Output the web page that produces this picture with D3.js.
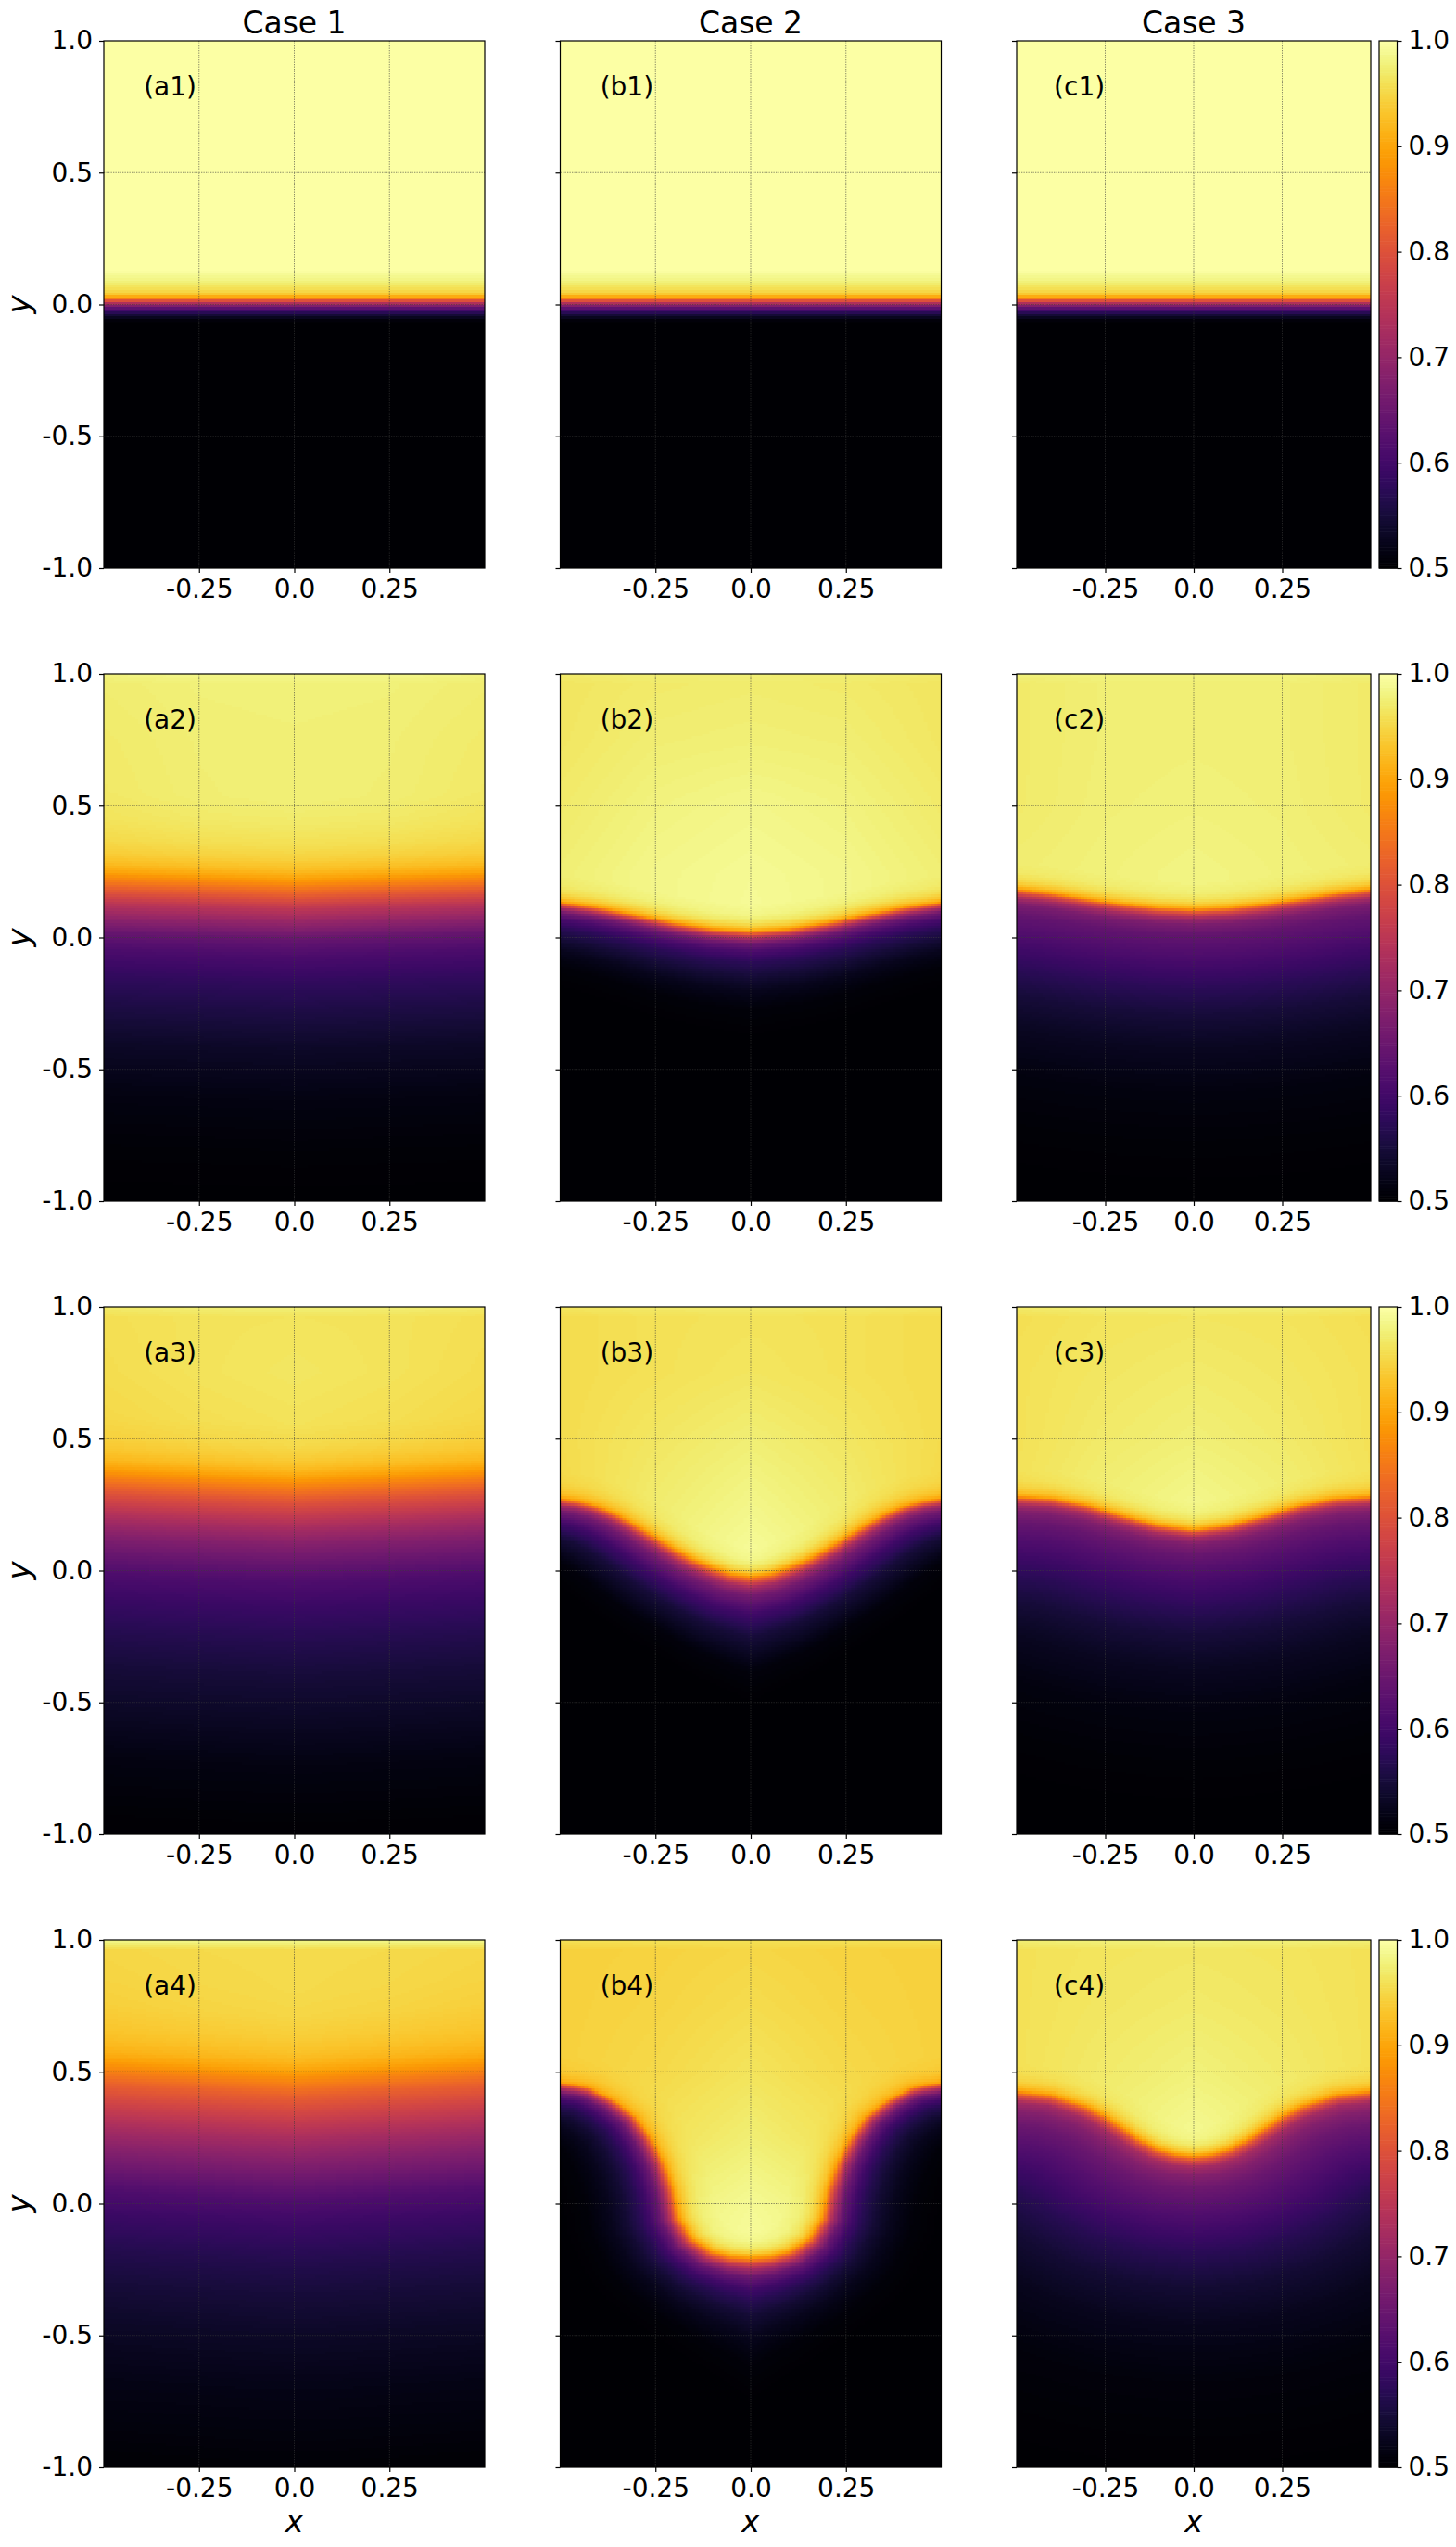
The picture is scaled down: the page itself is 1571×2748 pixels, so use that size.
<!DOCTYPE html>
<html><head><meta charset="utf-8">
<script src="https://cdn.jsdelivr.net/npm/d3@7"></script>
<style>
body{margin:0;background:#fff}
svg{display:block}
text{font-family:"DejaVu Sans",sans-serif;fill:#000}
</style>
</head><body>
<svg id="fig" width="1571" height="2748"></svg>
<script>
// ---------------- data ----------------
const caseTitles = ["Case 1", "Case 2", "Case 3"];
const panelLabels = [["(a1)","(b1)","(c1)"],["(a2)","(b2)","(c2)"],["(a3)","(b3)","(c3)"],["(a4)","(b4)","(c4)"]];
const yTicks = [-1, -0.5, 0, 0.5, 1];
const yTickLabels = ["-1.0", "-0.5", "0.0", "0.5", "1.0"];
const xTicks = [-0.25, 0, 0.25];
const xTickLabels = ["-0.25", "0.0", "0.25"];
const gridX = [-0.25, 0, 0.25];
const gridY = [-0.5, 0, 0.5];
const cbTicks = [0.5, 0.6, 0.7, 0.8, 0.9, 1.0];
const cbTickLabels = ["0.5", "0.6", "0.7", "0.8", "0.9", "1.0"];
const colorDomain = [0.5, 1.0];

// sample positions of the field above the interface (|x| and y)
const upperAbsX = [0, 0.25, 0.5];
const upperY = [1, 0.96, 0.75, 0.5, 0.25, 0, -0.25];

// Row 1 (a1, b1, c1): flat, sharp interface
const r1_ifaceX = [-0.5, 0.5];
const r1_ifaceY = [0.03, 0.03];
const r1_riseD = [0, 0.01, 0.02, 0.035, 0.06, 0.1];
const r1_riseF = [0, 0.35, 0.5, 0.62, 0.8, 1];
const r1_belowD = [0, -0.012, -0.022, -0.03, -0.042, -0.053, -0.07, -0.088, -0.11];
const r1_belowV = [0.9, 0.83, 0.76, 0.7, 0.64, 0.6, 0.55, 0.51, 0.5];
const r1_belowScale = [1, 1, 1];
const r1_upper = [[1,1,1],[1,1,1],[1,1,1],[1,1,1],[1,1,1],[1,1,1],[1,1,1]];

// a2
const a2_ifaceX = [-0.5, -0.25, 0, 0.25, 0.5];
const a2_ifaceY = [0.25, 0.238, 0.225, 0.238, 0.25];
const a2_riseD = [0, 0.03, 0.07, 0.12, 0.2, 0.3];
const a2_riseF = [0, 0.35, 0.62, 0.8, 0.93, 1];
const a2_belowD = [0, -0.04, -0.08, -0.12, -0.17, -0.23, -0.3, -0.4, -0.5, -0.65, -0.85, -1.05, -1.25];
const a2_belowV = [0.9, 0.85, 0.8, 0.75, 0.7, 0.645, 0.61, 0.58, 0.56, 0.535, 0.515, 0.505, 0.5];
const a2_belowScale = [1, 1, 1];
const a2_upper = [[0.985,0.985,0.98],[0.978,0.977,0.973],[0.976,0.975,0.97],[0.976,0.974,0.968],[0.97,0.97,0.965],[0.97,0.97,0.965],[0.97,0.97,0.965]];

// b2
const b2_ifaceX = [-0.5, -0.4, -0.3, -0.2, -0.1, 0, 0.1, 0.2, 0.3, 0.4, 0.5];
const b2_ifaceY = [0.135, 0.115, 0.088, 0.058, 0.035, 0.025, 0.035, 0.058, 0.088, 0.115, 0.135];
const b2_riseD = [0, 0.015, 0.035, 0.06, 0.1];
const b2_riseF = [0, 0.45, 0.75, 0.92, 1];
const b2_belowD = [0, -0.015, -0.03, -0.05, -0.08, -0.12, -0.17, -0.23, -0.3, -0.42];
const b2_belowV = [0.9, 0.8, 0.72, 0.655, 0.61, 0.575, 0.55, 0.525, 0.508, 0.5];
const b2_belowScale = [1, 1.1, 1.25];
const b2_upper = [[0.975,0.975,0.97],[0.972,0.97,0.965],[0.976,0.974,0.966],[0.985,0.98,0.97],[0.99,0.985,0.975],[0.992,0.985,0.975],[0.992,0.985,0.975]];

// c2
const c2_ifaceX = [-0.5, -0.4, -0.3, -0.2, -0.1, 0, 0.1, 0.2, 0.3, 0.4, 0.5];
const c2_ifaceY = [0.185, 0.17, 0.148, 0.128, 0.114, 0.108, 0.114, 0.128, 0.148, 0.17, 0.185];
const c2_riseD = [0, 0.015, 0.035, 0.06, 0.1];
const c2_riseF = [0, 0.45, 0.75, 0.92, 1];
const c2_belowD = [0, -0.015, -0.035, -0.06, -0.1, -0.16, -0.22, -0.3, -0.4, -0.52, -0.7, -0.9, -1.1];
const c2_belowV = [0.9, 0.8, 0.72, 0.67, 0.64, 0.62, 0.6, 0.575, 0.55, 0.53, 0.513, 0.505, 0.5];
const c2_belowScale = [1, 1, 1];
const c2_upper = [[0.98,0.98,0.978],[0.975,0.975,0.97],[0.976,0.975,0.97],[0.978,0.976,0.97],[0.982,0.978,0.974],[0.982,0.978,0.974],[0.982,0.978,0.974]];

// a3
const a3_ifaceX = [-0.5, -0.25, 0, 0.25, 0.5];
const a3_ifaceY = [0.392, 0.372, 0.355, 0.372, 0.392];
const a3_riseD = [0, 0.03, 0.07, 0.12, 0.2];
const a3_riseF = [0, 0.4, 0.7, 0.9, 1];
const a3_belowD = [0, -0.05, -0.1, -0.15, -0.2, -0.26, -0.33, -0.4, -0.5, -0.62, -0.75, -0.9, -1.1, -1.35];
const a3_belowV = [0.9, 0.85, 0.8, 0.76, 0.72, 0.68, 0.645, 0.615, 0.59, 0.568, 0.55, 0.535, 0.515, 0.502];
const a3_belowScale = [1, 1, 1];
const a3_upper = [[0.975,0.975,0.97],[0.963,0.962,0.958],[0.966,0.962,0.956],[0.96,0.956,0.95],[0.955,0.95,0.945],[0.955,0.95,0.945],[0.955,0.95,0.945]];

// b3
const b3_ifaceX = [-0.5, -0.45, -0.4, -0.35, -0.3, -0.25, -0.2, -0.15, -0.1, -0.05, 0, 0.05, 0.1, 0.15, 0.2, 0.25, 0.3, 0.35, 0.4, 0.45, 0.5];
const b3_ifaceY = [0.275, 0.265, 0.245, 0.215, 0.175, 0.13, 0.085, 0.045, 0.015, -0.01, -0.02, -0.01, 0.015, 0.045, 0.085, 0.13, 0.175, 0.215, 0.245, 0.265, 0.275];
const b3_riseD = [0, 0.015, 0.035, 0.06, 0.1];
const b3_riseF = [0, 0.45, 0.75, 0.92, 1];
const b3_belowD = [0, -0.02, -0.04, -0.07, -0.13, -0.21, -0.33, -0.45];
const b3_belowV = [0.9, 0.8, 0.72, 0.66, 0.6, 0.55, 0.51, 0.5];
const b3_belowScale = [0.9, 1.2, 1.4];
const b3_upper = [[0.97,0.97,0.965],[0.962,0.96,0.955],[0.965,0.96,0.955],[0.975,0.966,0.955],[0.985,0.972,0.952],[0.995,0.98,0.96],[0.995,0.98,0.96]];

// c3
const c3_ifaceX = [-0.5, -0.4, -0.3, -0.2, -0.1, 0, 0.1, 0.2, 0.3, 0.4, 0.5];
const c3_ifaceY = [0.283, 0.275, 0.25, 0.21, 0.175, 0.157, 0.175, 0.21, 0.25, 0.275, 0.283];
const c3_riseD = [0, 0.015, 0.035, 0.06, 0.1];
const c3_riseF = [0, 0.45, 0.75, 0.92, 1];
const c3_belowD = [0, -0.015, -0.035, -0.06, -0.1, -0.16, -0.22, -0.3, -0.4, -0.52, -0.7, -0.9, -1.1];
const c3_belowV = [0.9, 0.8, 0.72, 0.675, 0.645, 0.62, 0.6, 0.575, 0.55, 0.53, 0.513, 0.505, 0.5];
const c3_belowScale = [1, 1, 1];
const c3_upper = [[0.975,0.975,0.97],[0.965,0.963,0.958],[0.97,0.966,0.96],[0.976,0.97,0.96],[0.986,0.976,0.962],[0.986,0.976,0.962],[0.986,0.976,0.962]];

// a4
const a4_ifaceX = [-0.5, -0.25, 0, 0.25, 0.5];
const a4_ifaceY = [0.552, 0.528, 0.505, 0.528, 0.552];
const a4_riseD = [0, 0.03, 0.07, 0.12, 0.2, 0.3];
const a4_riseF = [0, 0.35, 0.6, 0.8, 0.95, 1];
const a4_belowD = [0, -0.05, -0.1, -0.15, -0.2, -0.27, -0.35, -0.43, -0.5, -0.6, -0.72, -0.85, -1.0, -1.2, -1.5];
const a4_belowV = [0.9, 0.86, 0.82, 0.79, 0.76, 0.72, 0.68, 0.645, 0.615, 0.59, 0.567, 0.55, 0.535, 0.52, 0.505];
const a4_belowScale = [1, 1, 1];
const a4_upper = [[0.985,0.985,0.985],[0.955,0.953,0.95],[0.953,0.95,0.945],[0.948,0.943,0.938],[0.94,0.94,0.94],[0.94,0.94,0.94],[0.94,0.94,0.94]];

// b4
const b4_ifaceX = [-0.5, -0.45, -0.42, -0.36, -0.3, -0.26, -0.225, -0.2, -0.185, -0.15, -0.1, -0.05, 0, 0.05, 0.1, 0.15, 0.185, 0.2, 0.225, 0.26, 0.3, 0.36, 0.42, 0.45, 0.5];
const b4_ifaceY = [0.46, 0.45, 0.44, 0.395, 0.33, 0.25, 0.155, 0.05, -0.055, -0.135, -0.18, -0.198, -0.203, -0.198, -0.18, -0.135, -0.055, 0.05, 0.155, 0.25, 0.33, 0.395, 0.44, 0.45, 0.46];
const b4_riseD = [0, 0.015, 0.035, 0.06, 0.1];
const b4_riseF = [0, 0.45, 0.75, 0.92, 1];
const b4_belowD = [0, -0.015, -0.03, -0.05, -0.08, -0.11, -0.15, -0.2, -0.27, -0.38];
const b4_belowV = [0.9, 0.8, 0.72, 0.65, 0.6, 0.57, 0.545, 0.525, 0.508, 0.5];
const b4_belowScale = [0.65, 1.0, 1.2];
const b4_upper = [[0.96,0.96,0.96],[0.95,0.946,0.944],[0.955,0.948,0.944],[0.963,0.952,0.944],[0.975,0.96,0.945],[0.99,0.975,0.948],[0.997,0.98,0.95]];

// c4
const c4_ifaceX = [-0.5, -0.4, -0.3, -0.25, -0.2, -0.15, -0.1, -0.05, 0, 0.05, 0.1, 0.15, 0.2, 0.25, 0.3, 0.4, 0.5];
const c4_ifaceY = [0.43, 0.415, 0.37, 0.335, 0.29, 0.245, 0.21, 0.19, 0.182, 0.19, 0.21, 0.245, 0.29, 0.335, 0.37, 0.415, 0.43];
const c4_riseD = [0, 0.015, 0.035, 0.06, 0.1];
const c4_riseF = [0, 0.45, 0.75, 0.92, 1];
const c4_belowD = [0, -0.02, -0.045, -0.08, -0.13, -0.2, -0.28, -0.38, -0.5, -0.65, -0.85, -1.1, -1.3];
const c4_belowV = [0.9, 0.8, 0.72, 0.68, 0.65, 0.625, 0.6, 0.57, 0.545, 0.525, 0.51, 0.503, 0.5];
const c4_belowScale = [1, 1, 1];
const c4_upper = [[0.978,0.978,0.975],[0.966,0.964,0.96],[0.97,0.966,0.96],[0.978,0.97,0.96],[0.99,0.976,0.963],[0.99,0.976,0.963],[0.99,0.976,0.963]];

// table assembled from the arrays above
function panelSpec(ifaceX, ifaceY, riseD, riseF, belowD, belowV, belowScale, upper) {
  return {ifaceX, ifaceY, riseD, riseF, belowD, belowV, belowScale, upper};
}
const panels = [
  [
    panelSpec(r1_ifaceX, r1_ifaceY, r1_riseD, r1_riseF, r1_belowD, r1_belowV, r1_belowScale, r1_upper),
    panelSpec(r1_ifaceX, r1_ifaceY, r1_riseD, r1_riseF, r1_belowD, r1_belowV, r1_belowScale, r1_upper),
    panelSpec(r1_ifaceX, r1_ifaceY, r1_riseD, r1_riseF, r1_belowD, r1_belowV, r1_belowScale, r1_upper)
  ],
  [
    panelSpec(a2_ifaceX, a2_ifaceY, a2_riseD, a2_riseF, a2_belowD, a2_belowV, a2_belowScale, a2_upper),
    panelSpec(b2_ifaceX, b2_ifaceY, b2_riseD, b2_riseF, b2_belowD, b2_belowV, b2_belowScale, b2_upper),
    panelSpec(c2_ifaceX, c2_ifaceY, c2_riseD, c2_riseF, c2_belowD, c2_belowV, c2_belowScale, c2_upper)
  ],
  [
    panelSpec(a3_ifaceX, a3_ifaceY, a3_riseD, a3_riseF, a3_belowD, a3_belowV, a3_belowScale, a3_upper),
    panelSpec(b3_ifaceX, b3_ifaceY, b3_riseD, b3_riseF, b3_belowD, b3_belowV, b3_belowScale, b3_upper),
    panelSpec(c3_ifaceX, c3_ifaceY, c3_riseD, c3_riseF, c3_belowD, c3_belowV, c3_belowScale, c3_upper)
  ],
  [
    panelSpec(a4_ifaceX, a4_ifaceY, a4_riseD, a4_riseF, a4_belowD, a4_belowV, a4_belowScale, a4_upper),
    panelSpec(b4_ifaceX, b4_ifaceY, b4_riseD, b4_riseF, b4_belowD, b4_belowV, b4_belowScale, b4_upper),
    panelSpec(c4_ifaceX, c4_ifaceY, c4_riseD, c4_riseF, c4_belowD, c4_belowV, c4_belowScale, c4_upper)
  ]
];

// ---------------- layout ----------------
const colLeft = [112, 604.5, 1097];
const colWidth = [411, 411, 382];
const rowTop = [44, 727, 1410, 2093];
const panelH = 569;
const cbX = 1488, cbW = 19.5;
const nCols = 110, nRows = 220;
const tickFont = 28, titleFont = 33, axisLabelFont = 34, panelLabelFont = 28;

const color = d3.scaleSequential(d3.interpolateInferno).domain(colorDomain).clamp(true);
const svg = d3.select("#fig");

function makeField(p) {
  const curve = d3.scaleLinear().domain(p.ifaceX).range(p.ifaceY);
  const rise = d3.scaleLinear().domain(p.riseD).range(p.riseF).clamp(true);
  const below = d3.scaleLinear().domain(p.belowD).range(p.belowV).clamp(true);
  const bscale = d3.scaleLinear().domain(upperAbsX).range(p.belowScale).clamp(true);
  const colScales = upperAbsX.map((_, j) => d3.scaleLinear().domain(upperY).range(p.upper.map(r => r[j])).clamp(true));
  const upperAt = (ax, y) => d3.scaleLinear().domain(upperAbsX).range(colScales.map(s => s(y))).clamp(true)(ax);
  const px = p.ifaceX, py = p.ifaceY;
  return (x, y) => {
    let dmin = Infinity;
    for (let i = 0; i < px.length - 1; i++) {
      const x0 = px[i], y0 = py[i], vx = px[i+1] - x0, vy = py[i+1] - y0;
      const L = vx*vx + vy*vy;
      let t = L > 0 ? ((x - x0)*vx + (y - y0)*vy) / L : 0;
      t = Math.max(0, Math.min(1, t));
      const dx = x - (x0 + t*vx), dy = y - (y0 + t*vy);
      const dd = dx*dx + dy*dy;
      if (dd < dmin) dmin = dd;
    }
    const dist = Math.sqrt(dmin);
    const ax = Math.abs(x);
    if (y >= curve(x)) {
      const u = upperAt(ax, y);
      return 0.9 + (u - 0.9) * rise(dist);
    }
    return below(-dist * bscale(ax));
  };
}

for (let r = 0; r < 4; r++) {
  for (let c = 0; c < 3; c++) {
    const L = colLeft[c], W = colWidth[c], T = rowTop[r], H = panelH;
    const x = d3.scaleLinear().domain([-0.5, 0.5]).range([L, L + W]);
    const y = d3.scaleLinear().domain([-1, 1]).range([T + H, T]);
    const field = makeField(panels[r][c]);

    // heat map cells drawn on a canvas through local copies of the scales
    const cw = Math.ceil(W), ch = Math.ceil(H);
    const canvas = document.createElement("canvas");
    canvas.width = cw; canvas.height = ch;
    const ctx = canvas.getContext("2d");
    const xl = d3.scaleLinear().domain([-0.5, 0.5]).range([0, cw]);
    const yl = d3.scaleLinear().domain([-1, 1]).range([ch, 0]);
    const cx = d3.scaleLinear().domain([0, nCols]).range([-0.5, 0.5]);
    const cy = d3.scaleLinear().domain([0, nRows]).range([-1, 1]);
    for (let i = 0; i < nCols; i++) {
      const xa = cx(i), xb = cx(i + 1), xm = (xa + xb) / 2;
      const p0 = Math.round(xl(xa)), p1 = Math.round(xl(xb));
      for (let j = 0; j < nRows; j++) {
        const ya = cy(j), yb = cy(j + 1), ym = (ya + yb) / 2;
        const q0 = Math.round(yl(yb)), q1 = Math.round(yl(ya));
        ctx.fillStyle = color(field(xm, ym));
        ctx.fillRect(p0, q0, p1 - p0, q1 - q0);
      }
    }
    svg.append("image")
      .attr("href", canvas.toDataURL())
      .attr("x", L).attr("y", T).attr("width", W).attr("height", H)
      .attr("preserveAspectRatio", "none");

    // grid
    const g = svg.append("g");
    g.selectAll("line.gx").data(gridX).join("line")
      .attr("x1", d => x(d)).attr("x2", d => x(d)).attr("y1", T).attr("y2", T + H)
      .attr("stroke", "#3a3a3a").attr("stroke-opacity", 0.6).attr("stroke-width", 1).attr("stroke-dasharray", "1.3,1.2");
    g.selectAll("line.gy").data(gridY).join("line")
      .attr("x1", L).attr("x2", L + W).attr("y1", d => y(d)).attr("y2", d => y(d))
      .attr("stroke", "#3a3a3a").attr("stroke-opacity", 0.6).attr("stroke-width", 1).attr("stroke-dasharray", "1.3,1.2");

    // frame
    svg.append("rect").attr("x", L).attr("y", T).attr("width", W).attr("height", H)
      .attr("fill", "none").attr("stroke", "#000").attr("stroke-width", 1.2);

    // y axis
    const yAxis = d3.axisLeft(y).tickValues(yTicks).tickSize(5).tickPadding(7)
      .tickFormat((d, i) => c === 0 ? yTickLabels[i] : "");
    const gy = svg.append("g").attr("transform", `translate(${L},0)`).call(yAxis);
    gy.select(".domain").remove();
    gy.selectAll("line").attr("stroke", "#000").attr("stroke-width", 1.2);
    gy.selectAll("text").attr("font-size", tickFont).attr("font-family", "DejaVu Sans");

    // x axis
    const xAxis = d3.axisBottom(x).tickValues(xTicks).tickSize(5).tickPadding(7)
      .tickFormat((d, i) => xTickLabels[i]);
    const gx = svg.append("g").attr("transform", `translate(0,${T + H})`).call(xAxis);
    gx.select(".domain").remove();
    gx.selectAll("line").attr("stroke", "#000").attr("stroke-width", 1.2);
    gx.selectAll("text").attr("font-size", tickFont).attr("font-family", "DejaVu Sans");

    // panel label
    svg.append("text").attr("x", x(-0.395)).attr("y", T + 59)
      .attr("font-size", panelLabelFont).text(panelLabels[r][c]);

    if (r === 0) {
      svg.append("text").attr("x", L + W / 2).attr("y", 36).attr("text-anchor", "middle")
        .attr("font-size", titleFont).text(caseTitles[c]);
    }
    if (c === 0) {
      svg.append("text").attr("transform", `translate(32,${T + H / 2}) rotate(-90)`)
        .attr("text-anchor", "middle").attr("font-size", axisLabelFont).attr("font-style", "italic").text("y");
    }
    if (r === 3) {
      svg.append("text").attr("x", L + W / 2).attr("y", T + H + 70).attr("text-anchor", "middle")
        .attr("font-size", axisLabelFont).attr("font-style", "italic").text("x");
    }
  }

  // colour bar for the row
  const T = rowTop[r], H = panelH;
  const cb = d3.scaleLinear().domain(colorDomain).range([T + H, T]);
  const steps = d3.range(0, 200);
  const sv = d3.scaleLinear().domain([0, 200]).range(colorDomain);
  const gc = svg.append("g");
  gc.selectAll("rect").data(steps).join("rect")
    .attr("x", cbX).attr("width", cbW)
    .attr("y", d => cb(sv(d + 1)))
    .attr("height", d => cb(sv(d)) - cb(sv(d + 1)) + 0.6)
    .attr("fill", d => color(sv(d + 0.5)));
  svg.append("rect").attr("x", cbX).attr("y", T).attr("width", cbW).attr("height", H)
    .attr("fill", "none").attr("stroke", "#000").attr("stroke-width", 1.2);
  const cAxis = d3.axisRight(cb).tickValues(cbTicks).tickSize(5).tickPadding(7)
    .tickFormat((d, i) => cbTickLabels[i]);
  const ga = svg.append("g").attr("transform", `translate(${cbX + cbW},0)`).call(cAxis);
  ga.select(".domain").remove();
  ga.selectAll("line").attr("stroke", "#000").attr("stroke-width", 1.2);
  ga.selectAll("text").attr("font-size", tickFont).attr("font-family", "DejaVu Sans");
}
</script>
</body></html>
